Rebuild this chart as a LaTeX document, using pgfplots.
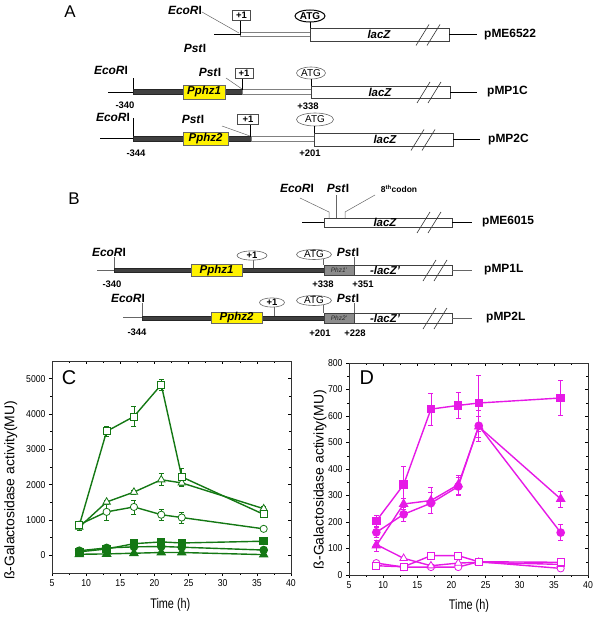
\documentclass[border=0pt]{standalone}
\usepackage{pgfplots}
\pgfplotsset{compat=1.18}
\usetikzlibrary{shapes.geometric}
\usepackage{fontspec}
\setmainfont{Liberation Sans}
\setsansfont{Liberation Sans}
\newfontfamily\narrow[FakeStretch=0.87]{Liberation Sans}
\newfontfamily\narrowx[FakeStretch=0.78]{Liberation Sans}
\definecolor{dgreen}{RGB}{20,120,20}
\definecolor{mag}{RGB}{230,25,230}
\definecolor{pyel}{RGB}{255,242,0}
\newcommand\eco{\textit{EcoR}I}
\newcommand\pst{\textit{Pst}I}
\pgfplotsset{
  base/.style={scale only axis, width=239bp, height=212bp, anchor=south west,
    xmin=5, xmax=40, xtick={5,10,...,40}, minor x tick num=1, minor y tick num=1,
    tick style={black, line width=0.5bp}, major tick length=3bp, minor tick length=1.8bp,
    axis line style={line width=0.6bp, black!80}},
  main/.style={base, tick align=outside, xtick pos=left, ytick pos=left,
    ticklabel style={font=\narrow\fontsize{10}{11}\selectfont},
    /pgf/number format/assume math mode=true,
    /pgf/number format/set thousands separator={}, scaled y ticks=false,
    ylabel={ß-Galactosidase activity(MU)}, xlabel={Time (h)},
    ylabel style={font=\fontsize{14}{14}\selectfont},
    xlabel style={font=\narrowx\fontsize{14}{14}\selectfont, at={(axis description cs:0.495,-0.15)}, anchor=center},
    every axis plot/.append style={line width=1.4bp},
    error bars/error bar style={line width=0.6bp},
    error bars/error mark options={rotate=90, mark size=2.5bp, line width=0.6bp}},
  mirror/.style={base, tick align=inside, xtick pos=right, ytick pos=right,
    xticklabels={}, yticklabels={}},
  osq/.style={mark=square*, mark size=3.5bp, mark options={fill=white, solid, line width=0.8bp}},
  otr/.style={mark=triangle*, mark size=4.3bp, mark options={fill=white, solid, line width=0.8bp}},
  oci/.style={mark=*, mark size=3.6bp, mark options={fill=white, solid, line width=0.8bp}},
  fsq/.style={mark=square*, mark size=3.5bp},
  ftr/.style={mark=triangle*, mark size=4.3bp},
  fci/.style={mark=*, mark size=3.6bp},
}
\begin{document}
\begin{tikzpicture}
\path[use as bounding box] (0,0) rectangle (597bp,-617bp);
\begin{scope}[x=1bp, y=-1bp, every node/.style={inner sep=0pt},
  ln/.style={line width=0.8bp, black},
  gl/.style={line width=0.5bp, black!60},
  bx/.style={draw=black!75, line width=0.7bp, fill=white},
  dk/.style={fill=black!75, draw=black!85, line width=0.4bp},
  yb/.style={fill=pyel, draw=black!60, line width=0.5bp},
  pbox/.style={draw=black!70, fill=white, line width=0.6bp, minimum width=18bp, minimum height=10bp, font=\bfseries\fontsize{9.5}{10}\selectfont},
  ell/.style={ellipse, draw=black!60, fill=white, line width=0.6bp, font=\fontsize{10}{10}\selectfont},
  bl/.style={font=\bfseries\fontsize{12}{12}\selectfont},
  nl/.style={font=\bfseries\fontsize{9.5}{10}\selectfont},
  gene/.style={font=\bfseries\itshape\fontsize{11.5}{12}\selectfont}]
\newcommand\brk[2]{\draw[line width=0.6bp, black!80] (#1,#2+11)--(#1+13,#2-10); \draw[line width=0.6bp, black!80] (#1+11,#2+11)--(#1+24,#2-10);}
% ---------- A ----------
\node[font=\fontsize{17}{17}\selectfont] at (70,12) {A};
% pME6522
\draw[ln] (214,34.5)--(240,34.5);
\draw[bx,draw=black!50] (240,32.2) rectangle (310,36.8);
\draw[bx] (310,28) rectangle (449,41);
\draw[ln] (240,21)--(240,34.5);
\draw[gl] (202,12)--(239,33);
\node[pbox, line width=0.8bp] at (241.5,15.5) {+1};
\node[ell, draw=black, line width=1bp, minimum width=30bp, minimum height=12bp, font=\bfseries\fontsize{10}{10}\selectfont] at (310,16) {ATG};
\draw[ln] (310,22)--(310,28);
\node[gene] at (379,34.5) {lacZ};
\brk{416}{34.5}
\draw[ln] (449,34.5)--(477,34.5);
\node[bl, anchor=west] at (484,34.5) {pME6522};
\node[bl] at (185,10) {\eco};
\node[bl] at (195,48) {\pst};
% pMP1C
\draw[ln] (108,92)--(133,92);
\draw[ln] (133,78)--(133,92);
\draw[dk] (133,89.5) rectangle (242,94.5);
\node[yb, minimum width=42bp, minimum height=14bp, gene] at (204,92) {Pphz1};
\draw[bx,draw=black!50] (242,89.7) rectangle (311,94.3);
\draw[ln] (242,78)--(242,89.5);
\node[pbox] at (244,73) {+1};
\draw[gl] (226,78)--(242,89);
\node[bl] at (210,72) {\pst};
\node[ell, minimum width=29bp, minimum height=12bp] at (311,73) {ATG};
\draw[ln] (311,79)--(311,86);
\draw[bx] (311,86) rectangle (450,98);
\node[gene] at (380,92) {lacZ};
\brk{417}{92}
\draw[ln] (450,92)--(477,92);
\node[bl, anchor=west] at (487,92) {pMP1C};
\node[bl] at (111,70) {\eco};
\node[nl] at (125,105) {-340};
\node[nl] at (308,106) {+338};
% pMP2C
\draw[ln] (100,138)--(133,138);
\draw[ln] (133,118)--(133,138);
\draw[dk] (133,136.5) rectangle (251,141.5);
\node[yb, minimum width=45bp, minimum height=13bp, gene] at (205.5,139) {Pphz2};
\draw[bx,draw=black!50] (251,136.7) rectangle (314,141.3);
\draw[ln] (250,124)--(250,136.5);
\node[pbox, minimum width=21bp] at (248,119) {+1};
\draw[gl] (222,126)--(250,136);
\node[bl] at (193,119) {\pst};
\node[ell, minimum width=37bp, minimum height=13bp] at (315,119.5) {ATG};
\draw[ln] (314,126)--(314,133);
\draw[bx] (314,133) rectangle (453,146);
\node[gene] at (385,139.5) {lacZ};
\brk{411}{139.5}
\draw[ln] (453,139.5)--(480,139.5);
\node[bl, anchor=west] at (488,139.5) {pMP2C};
\node[bl] at (113,117) {\eco};
\node[nl] at (136,153) {-344};
\node[nl] at (310,153) {+201};
% ---------- B ----------
\node[font=\fontsize{17}{17}\selectfont] at (74,199) {B};
% pME6015
\draw[ln] (302,222)--(324,222);
\draw[bx] (324,218) rectangle (452,227);
\node[gene] at (385,222.5) {lacZ};
\brk{417}{222}
\draw[ln] (452,222)--(472,222);
\node[bl, anchor=west] at (482,222) {pME6015};
\node[bl] at (297,188) {\eco};
\draw[gl] (300,198)--(329,212)--(329,218);
\node[bl] at (338,188) {\pst};
\draw[gl] (336,195)--(336,218);
\node[font=\bfseries\fontsize{8.5}{9}\selectfont] at (399,189) {8\textsuperscript{th}codon};
\draw[gl] (375,195)--(345,212)--(345,218);
% pMP1L
\draw[gl] (97,270)--(114,270);
\draw[gl] (114,257)--(114,270);
\draw[dk] (114,268) rectangle (324,272);
\node[yb, minimum width=51bp, minimum height=12bp, gene] at (216.5,270.5) {Pphz1};
\draw[gl] (253,260)--(253,268);
\node[ell, minimum width=30bp, minimum height=9bp, font=\bfseries\fontsize{9.5}{10}\selectfont] at (252,255.5) {+1};
\draw[gl] (323,259)--(323,265);
\node[ell, minimum width=35bp, minimum height=9bp] at (314,254.5) {ATG};
\draw[bx] (354,265) rectangle (452,275);
\draw[fill=black!45, draw=black!75, line width=0.5bp] (324,265) rectangle (354,275);
\node[font=\itshape\fontsize{6.5}{7}\selectfont, text=black!85] at (339,270) {Phz1'};
\node[gene] at (385,270) {-lacZ'};
\node[bl] at (348,252) {\pst};
\draw[gl] (354,257)--(354,265);
\brk{423}{270}
\draw[gl] (452,270)--(472,270);
\node[bl, anchor=west] at (484,270) {pMP1L};
\node[bl] at (109,252) {\eco};
\node[nl] at (112,284) {-340};
\node[nl] at (323,284) {+338};
\node[nl] at (363,284) {+351};
% pMP2L
\draw[gl] (123,317)--(142,317);
\draw[gl] (142,303)--(142,317);
\draw[dk] (142,316) rectangle (324,320);
\node[yb, minimum width=51bp, minimum height=11bp, gene] at (236.5,317.5) {Pphz2};
\draw[gl] (274,307)--(274,316);
\node[ell, minimum width=25bp, minimum height=9bp, font=\bfseries\fontsize{9.5}{10}\selectfont] at (272,302.5) {+1};
\draw[gl] (323,305)--(323,313);
\node[ell, minimum width=35bp, minimum height=9bp] at (314,300.5) {ATG};
\draw[bx] (354,313) rectangle (452,323);
\draw[fill=black!45, draw=black!75, line width=0.5bp] (324,313) rectangle (354,323);
\node[font=\itshape\fontsize{6.5}{7}\selectfont, text=black!85] at (339,318) {Phz2'};
\node[gene] at (385,318) {-lacZ'};
\node[bl] at (348,298) {\pst};
\draw[gl] (354,303)--(354,313);
\brk{423}{318}
\draw[gl] (452,318)--(472,318);
\node[bl, anchor=west] at (486,318) {pMP2L};
\node[bl] at (128,298) {\eco};
\node[nl] at (137,332) {-344};
\node[nl] at (320,333) {+201};
\node[nl] at (355,333) {+228};
\end{scope}
% ---------- C ----------
\begin{axis}[mirror, at={(52bp,-573bp)}, ymin=-500, ymax=5500, ytick={0,1000,...,5000}]
\end{axis}
\begin{axis}[main, at={(52bp,-573bp)}, ymin=-500, ymax=5500, ytick={0,1000,...,5000},
  ylabel style={at={(axis description cs:-0.172,0.39)}, anchor=center}]
\addplot[dgreen, fsq, error bars/.cd, y dir=both, y explicit] coordinates {(9,100)+-(0,30) (13,180)+-(0,40) (17,330)+-(0,80) (21,380)+-(0,60) (24,350)+-(0,60) (36,400)+-(0,30)};
\addplot[dgreen, fci, error bars/.cd, y dir=both, y explicit] coordinates {(9,130)+-(0,40) (13,210)+-(0,50) (17,240)+-(0,50) (21,250)+-(0,50) (24,230)+-(0,50) (36,150)+-(0,40)};
\addplot[dgreen, ftr, error bars/.cd, y dir=both, y explicit] coordinates {(9,30)+-(0,20) (13,40)+-(0,20) (17,60)+-(0,40) (21,80)+-(0,40) (24,80)+-(0,40) (36,20)+-(0,20)};
\addplot[dgreen, oci, error bars/.cd, y dir=both, y explicit] coordinates {(9,870)+-(0,60) (13,1230)+-(0,250) (17,1370)+-(0,200) (21,1150)+-(0,150) (24,1070)+-(0,150) (36,750)+-(0,50)};
\addplot[dgreen, otr, error bars/.cd, y dir=both, y explicit] coordinates {(9,800)+-(0,80) (13,1510)+-(0,60) (17,1790)+-(0,60) (21,2140)+-(0,170) (24,2050)+-(0,100) (36,1320)+-(0,60)};
\addplot[dgreen, osq, error bars/.cd, y dir=both, y explicit] coordinates {(9,850)+-(0,50) (13,3510)+-(0,150) (17,3930)+-(0,280) (21,4830)+-(0,150) (24,2220)+-(0,250) (36,1160)+-(0,60)};
\node[font=\fontsize{20}{20}\selectfont] at (axis description cs:0.071,0.92) {C};
\end{axis}
% ---------- D ----------
\begin{axis}[mirror, at={(349bp,-575bp)}, ymin=0, ymax=800, ytick={0,100,...,800}]
\end{axis}
\begin{axis}[main, at={(349bp,-575bp)}, ymin=0, ymax=800, ytick={0,100,...,800},
  ylabel style={at={(axis description cs:-0.121,0.45)}, anchor=center},
  xlabel style={at={(axis description cs:0.502,-0.146)}}]
\addplot[mag, oci] coordinates {(9,45) (13,30) (17,30) (21,30) (24,50) (36,25)};
\addplot[mag, otr] coordinates {(9,115) (13,63) (17,35) (21,45) (24,48) (36,40)};
\addplot[mag, osq] coordinates {(9,35) (13,31) (17,73) (21,73) (24,50) (36,48)};
\addplot[mag, fci, error bars/.cd, y dir=both, y explicit] coordinates {(9,161)+-(0,20) (13,229)+-(0,25) (17,271)+-(0,40) (21,334)+-(0,35) (24,563)+-(0,60) (36,160)+-(0,30)};
\addplot[mag, ftr, error bars/.cd, y dir=both, y explicit] coordinates {(9,111)+-(0,20) (13,268)+-(0,20) (17,281)+-(0,50) (21,341)+-(0,35) (24,560)+-(0,40) (36,287)+-(0,30)};
\addplot[mag, fsq, error bars/.cd, y dir=both, y explicit] coordinates {(9,204)+-(0,20) (13,341)+-(0,70) (17,626)+-(0,60) (21,640)+-(0,50) (24,649)+-(0,105) (36,668)+-(0,65)};
\node[font=\fontsize{20}{20}\selectfont] at (axis description cs:0.075,0.93) {D};
\end{axis}
\end{tikzpicture}
\end{document}
